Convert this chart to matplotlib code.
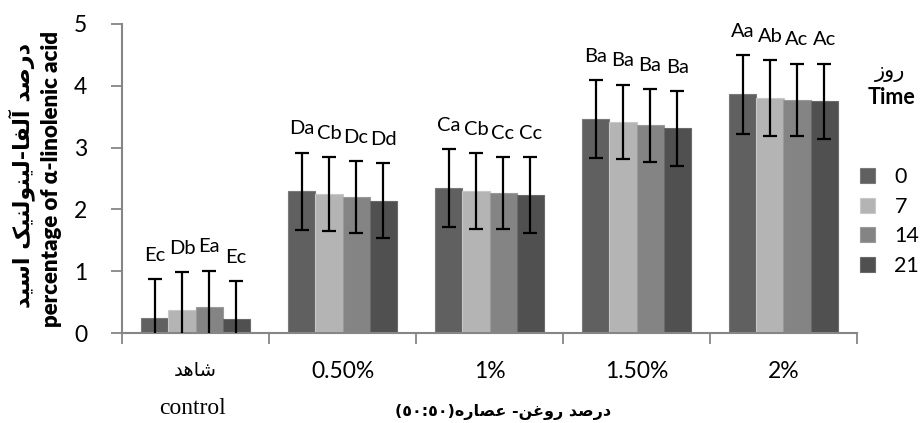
import matplotlib
matplotlib.use("Agg")
import matplotlib.pyplot as plt
import numpy as np

# ---------------- data ----------------
categories_fa = ["شاهد", "0.50%", "1%", "1.50%", "2%"]
days = ["0", "7", "14", "21"]
day0 = [0.25, 2.29, 2.35, 3.46, 3.86]
day7 = [0.38, 2.25, 2.30, 3.42, 3.80]
day14 = [0.42, 2.20, 2.26, 3.36, 3.77]
day21 = [0.23, 2.14, 2.23, 3.31, 3.75]
err0 = [0.63, 0.63, 0.63, 0.63, 0.64]
err7 = [0.60, 0.60, 0.61, 0.60, 0.61]
err14 = [0.59, 0.58, 0.58, 0.59, 0.59]
err21 = [0.61, 0.61, 0.61, 0.61, 0.61]
lab0 = ["Ec", "Da", "Ca", "Ba", "Aa"]
lab7 = ["Db", "Cb", "Cb", "Ba", "Ab"]
lab14 = ["Ea", "Dc", "Cc", "Ba", "Ac"]
lab21 = ["Ec", "Dd", "Cc", "Ba", "Ac"]
yticks = [0, 1, 2, 3, 4, 5]

series = [day0, day7, day14, day21]
errors = [err0, err7, err14, err21]
labels = [lab0, lab7, lab14, lab21]
colors = ["#606060", "#b4b4b4", "#848484", "#505050"]
edges = ["#7a7a7a", "#c8c8c8", "#9a9a9a", "#6a6a6a"]

# ---------------- minimal Arabic/Persian shaping ----------------
FORMS = {
    '\u0627': ('\uFE8D', '\uFE8E', None, None),
    '\u0622': ('\uFE81', '\uFE82', None, None),
    '\u062F': ('\uFEA9', '\uFEAA', None, None),
    '\u0631': ('\uFEAD', '\uFEAE', None, None),
    '\u0632': ('\uFEAF', '\uFEB0', None, None),
    '\u0648': ('\uFEED', '\uFEEE', None, None),
    '\u0635': ('\uFEB9', '\uFEBA', '\uFEBB', '\uFEBC'),
    '\u0644': ('\uFEDD', '\uFEDE', '\uFEDF', '\uFEE0'),
    '\u0641': ('\uFED1', '\uFED2', '\uFED3', '\uFED4'),
    '\u0646': ('\uFEE5', '\uFEE6', '\uFEE7', '\uFEE8'),
    '\u06CC': ('\uFBFC', '\uFBFD', '\uFBFE', '\uFBFF'),
    '\u06A9': ('\uFB8E', '\uFB8F', '\uFB90', '\uFB91'),
    '\u0633': ('\uFEB1', '\uFEB2', '\uFEB3', '\uFEB4'),
    '\u0647': ('\uFEE9', '\uFEEA', '\uFEEB', '\uFEEC'),
    '\u0634': ('\uFEB5', '\uFEB6', '\uFEB7', '\uFEB8'),
    '\u063A': ('\uFECD', '\uFECE', '\uFECF', '\uFED0'),
    '\u0639': ('\uFEC9', '\uFECA', '\uFECB', '\uFECC'),
}


def _shape(s):
    out = []
    for i, c in enumerate(s):
        f = FORMS.get(c)
        if f is None:
            out.append(c)
            continue
        prev = s[i - 1] if i > 0 else ''
        nxt = s[i + 1] if i + 1 < len(s) else ''
        jp = prev in FORMS and FORMS[prev][2] is not None
        jn = f[2] is not None and nxt in FORMS
        if jp and jn:
            out.append(f[3])
        elif jp:
            out.append(f[1])
        elif jn:
            out.append(f[2])
        else:
            out.append(f[0])
    return out


def rtl(s):
    chars = _shape(s)
    mirror = {'(': ')', ')': '('}
    chars = [mirror.get(c, c) for c in chars][::-1]
    res = []
    i = 0
    isltr = lambda ch: ch.isdigit() or (ch.isascii() and ch.isalnum()) or ch in '.%'
    while i < len(chars):
        if isltr(chars[i]):
            j = i
            while j < len(chars) and isltr(chars[j]):
                j += 1
            res.extend(chars[i:j][::-1])
            i = j
        else:
            res.append(chars[i])
            i += 1
    return ''.join(res)


# ---------------- figure ----------------
W, H = 923, 423
fig = plt.figure(figsize=(W / 100, H / 100), dpi=100)
ax = fig.add_axes([122 / W, 90 / H, 735 / W, 309 / H])

x = np.arange(len(categories_fa))
bw = 0.184
offs = (np.arange(4) - 1.5) * bw
for k in range(4):
    xs = x + offs[k]
    ax.bar(xs, series[k], width=bw, color=colors[k], edgecolor=edges[k],
           linewidth=0.8, label=days[k], zorder=2)
    ax.errorbar(xs, series[k], yerr=errors[k], fmt='none', ecolor='black',
                elinewidth=1.6, capsize=5, capthick=1.6, zorder=3)
    for xi, v, e, t in zip(xs, series[k], errors[k], labels[k]):
        ax.annotate(t, (xi, v + e), xytext=(0, 17), textcoords='offset points',
                    ha='center', va='center', fontsize=14.5, family='Lato',
                    annotation_clip=False)

ax.set_xlim(-0.5, len(categories_fa) - 0.5)
ax.set_ylim(0, 5)
ax.set_yticks(yticks)
ax.set_yticklabels([str(t) for t in yticks], fontsize=16.5, family='Lato')

tick_labels = [rtl(categories_fa[0])] + categories_fa[1:]
ax.set_xticks(x)
ax.set_xticklabels(tick_labels, fontsize=16.5, family='Lato')
ax.get_xticklabels()[0].set_family(['DejaVu Sans'])
ax.get_xticklabels()[0].set_fontsize(14)
ax.set_xticks(np.arange(-0.5, len(categories_fa)), minor=True)
ax.tick_params(axis='x', which='major', length=0, pad=20)
ax.tick_params(axis='x', which='minor', length=8, color='#868686', width=1.3,
               direction='out')
ax.tick_params(axis='y', length=8, color='#868686', width=1.3, pad=17)

for s in ['top', 'right']:
    ax.spines[s].set_visible(False)
for s in ['left', 'bottom']:
    ax.spines[s].set_color('#868686')
    ax.spines[s].set_linewidth(1.5)

# axis titles
fig.text(52 / W, 1 - 179 / H, "percentage of α-linolenic acid", rotation=90,
         ha='center', va='center', fontsize=16, fontweight='heavy', family='Lato')
fig.text(22 / W, 1 - 175 / H, rtl("درصد آلفا-لینولنیک اسید"), rotation=90,
         ha='center', va='center', fontsize=16, fontweight='bold',
         family=['DejaVu Sans'])
fig.text(193 / W, 1 - 408 / H, "control", ha='center', va='center',
         fontsize=17, family='Liberation Serif')
fig.text(503 / W, 1 - 412 / H, rtl("درصد روغن- عصاره(٥٠:٥٠)"), ha='center',
         va='center', fontsize=11.5, fontweight='bold', family=['DejaVu Sans'])

# legend
fig.text(890 / W, 1 - 72 / H, rtl("روز"), ha='center', va='center',
         fontsize=15, family=['DejaVu Sans'])
fig.text(892 / W, 1 - 97 / H, "Time", ha='center', va='center',
         fontsize=15.5, fontweight='bold', family='Lato')
leg = ax.legend(loc='upper left', bbox_to_anchor=(860 / W, 1 - 167 / H),
                bbox_transform=fig.transFigure, frameon=False,
                prop={'family': 'Lato', 'size': 15.5}, handlelength=0.7,
                handleheight=0.7, handletextpad=0.9, labelspacing=0.45,
                borderpad=0, borderaxespad=0)

fig.savefig("out.png", dpi=100)
